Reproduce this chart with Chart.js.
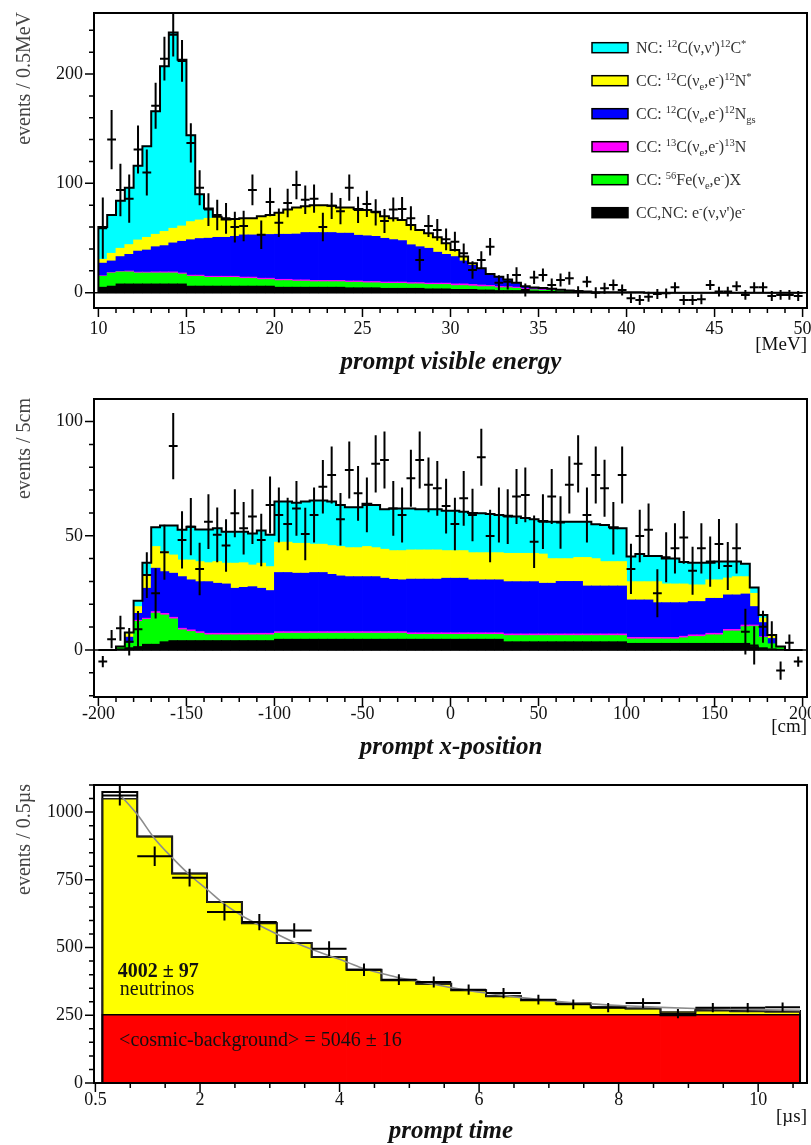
<!DOCTYPE html>
<html>
<head>
<meta charset="utf-8">
<title>prompt events</title>
<script src="https://cdn.jsdelivr.net/npm/chart.js@4.4.1/dist/chart.umd.min.js"></script>
<style>
  html, body { margin: 0; padding: 0; background: #fff; }
  #page { position: relative; width: 811px; height: 1145px; overflow: hidden; }
  #page canvas { position: absolute; left: 0; }
</style>
</head>
<body>
<div id="page">
  <canvas id="chart-energy" width="811" height="385" style="top:0"></canvas>
  <canvas id="chart-xpos" width="811" height="385" style="top:385px"></canvas>
  <canvas id="chart-time" width="811" height="375" style="top:770px"></canvas>
</div>
<script>
// ── Prompt visible energy, 0.5 MeV bins from 10 to 50 MeV ─────────
const E_FIRST = 10, E_BIN = 0.5;
const eNuElectron = [
  5, 6, 8, 8, 8, 8, 8, 8, 8, 8,   6, 6, 6, 6, 6, 6, 6, 6, 6, 6,
  5, 5, 5, 5, 5, 5, 5, 5, 4.5, 4.5,   4.5, 4.5, 4, 4, 4, 4, 4, 3.5, 3.5, 3.5,
  3, 3, 3, 2.5, 2.5, 2, 2, 2, 1.5, 1.5,   1.2, 1.2, 1, 1, 0.8, 0.6, 0.5, 0.5, 0.4, 0.3,
  0.3, 0.3, 0, 0, 0, 0, 0, 0, 0, 0,   0, 0, 0, 0, 0, 0, 0, 0, 0, 0,
];
const eCcIron = [
  10, 12, 11, 11, 10, 10, 10, 10, 10, 9,   9, 9, 8, 8, 8, 8, 7, 7, 6, 6,
  6, 6, 5.5, 5.5, 5, 5, 5, 5, 5, 5,   4.5, 4.5, 4.5, 4.5, 4.5, 4, 4, 4, 4, 4,
  3.5, 3.5, 3, 3, 3, 2.5, 2.5, 2, 1.5, 1.2,   1, 1, 0.8, 0.6, 0.5, 0.4, 0, 0, 0, 0,
  0, 0, 0, 0, 0, 0, 0, 0, 0, 0,   0, 0, 0, 0, 0, 0, 0, 0, 0, 0,
];
const eCcC13 = [
  0.5, 0.5, 0.5, 0.8, 0.8, 0.8, 1, 1, 1, 1,   1, 1, 1, 1, 1, 1, 1.2, 1.2, 1.2, 1.2,
  1.2, 1.2, 1.2, 1.2, 1.2, 1.2, 1.2, 1.2, 1.2, 1.2,   1.2, 1.2, 1.2, 1.2, 1.2, 1.2, 1.2, 1.2, 1.2, 1.2,
  1.5, 1.5, 1.5, 1.5, 1.2, 1.2, 1, 1, 0.8, 0.8,   0.6, 0.5, 0.3, 0, 0, 0, 0, 0, 0, 0,
  0, 0, 0, 0, 0, 0, 0, 0, 0, 0,   0, 0, 0, 0, 0, 0, 0, 0, 0, 0,
];
const eCcNGround = [
  11.5, 10.5, 13.5, 15.2, 19.2, 20.2, 23, 24, 26.5, 29,   32.4, 33.5, 34.8, 35.6, 35.6, 36.5, 38.6, 38.6, 39.6, 40,
  41.2, 41.2, 41.9, 43.3, 43.8, 43.8, 43.8, 43.2, 43.7, 41.8,   41.8, 41.3, 40, 38.8, 37.9, 34.6, 32.8, 31.9, 28.3, 26.3,
  25, 21, 17.5, 14.5, 9.8, 8.3, 6, 3.5, 2, 1.3,   1.4, 1, 0.7, 0.5, 0.3, 0, 0, 0, 0, 0,
  0, 0, 0, 0, 0, 0, 0, 0, 0, 0,   0, 0, 0, 0, 0, 0, 0, 0, 0, 0,
];
const eCcNStar = [
  3.5, 7, 7.6, 9, 10.2, 11.6, 11.4, 13, 13.4, 14,   16.6, 17, 18.2, 18.4, 16.4, 16, 15.2, 15.2, 17.2, 17.8,
  19.6, 22.6, 24.4, 24, 25, 25, 24.5, 23.6, 23.6, 24,   23.7, 22.5, 20.3, 19.5, 18.9, 18.2, 15.4, 13.7, 13.7, 10.2,
  6, 4, 2, 0.8, 0.5, 0.6, 0.5, 0.5, 0, 0,   0, 0, 0, 0, 0, 0, 0, 0, 0, 0,
  0, 0, 0, 0, 0, 0, 0, 0, 0, 0,   0, 0, 0, 0, 0, 0, 0, 0, 0, 0,
];
const eNcCarbon = [
  29.5, 35, 43.4, 52, 67.8, 83.4, 112.6, 151, 179.1, 152,   79, 23.5, 9, 0.5, 0, 0, 0, 0, 0, 0,
  0, 0, 0, 0, 0, 0, 0, 0, 0, 0,   0, 0, 0, 0, 0, 0, 0, 0, 0, 0,
  0, 0, 0, 0, 0, 0, 0, 0, 0, 0,   0, 0, 0, 0, 0, 0, 0, 0, 0, 0,
  0, 0, 0, 0, 0, 0, 0, 0, 0, 0,   0, 0, 0, 0, 0, 0, 0, 0, 0, 0,
];
const eData = [
  59, 140, 94, 86, 131, 110, 171, 214, 236, 212,   137, 96, 76, 71, 68, 60, 61, 94, 53, 83,
  64, 82, 98.5, 85, 86, 60, 79.5, 74.5, 96, 75.7,   81.2, 73.5, 65.5, 76, 76.5, 68, 30, 61, 57.4, 48.8,
  46.7, 36, 20.8, 30, 42, 9, 10, 16.2, 2.5, 14,   16.2, 7, 11.6, 13.2, 1, 10, 0, 4, 7, 2.5,
  -5, -6.7, -3.7, -1.2, -0.6, 5, -6.7, -6.7, -6, 7,   1, 1, 6, -2, 5, 5, -3, -2, -2, -3,
];
const eErr = [
  28, 27, 24, 22, 22, 21, 21, 20, 20, 19,   18, 16, 15, 14, 14, 14, 14, 14, 13, 13,
  13, 13, 13, 13, 13, 13, 12, 12, 12, 12,   12, 12, 11, 11, 11, 11, 10, 10, 10, 10,
  9, 9, 8, 8, 8, 7, 7, 7, 6, 6,   6, 6, 6, 6, 5, 5, 5, 5, 5, 5,
  4.5, 4.5, 4.5, 4.5, 4.5, 4.5, 4.5, 4.5, 4.5, 4.5,   4.5, 4.5, 4.5, 4.5, 4.5, 4.5, 4.5, 4.5, 4.5, 4.5,
];
const eTicks = [10, 15, 20, 25, 30, 35, 40, 45, 50];
const eCountTicks = [0, 100, 200];

// ── Prompt x-position, 5 cm bins from -200 to 200 cm ──────────────
const X_FIRST = -200, X_BIN = 5;
const xNuElectron = [
  0, 0, 0.5, 1, 1.5, 2.5, 2.5, 3.6, 4.1, 4.1,   4.1, 4.1, 4.1, 4.1, 4.1, 4.1, 4.1, 4.1, 4.1, 4.1,
  4.7, 4.7, 4.7, 4.7, 4.7, 4.7, 4.7, 4.7, 4.7, 4.7,   4.7, 4.7, 4.7, 4.7, 4.7, 4.7, 4.7, 4.7, 4.7, 4.7,
  4.7, 4.7, 4.7, 4.7, 4.7, 4.7, 3.6, 3.6, 3.6, 3.6,   3.6, 3.6, 3.6, 3.6, 3.6, 3.6, 3.6, 3.6, 3.6, 3.6,
  2.9, 2.9, 2.9, 2.9, 2.9, 2.9, 2.9, 2.9, 2.9, 2.9,   2.9, 2.9, 2.9, 2.9, 1.5, 1, 0.5, 0.3, 0, 0,
];
const xCcIron = [
  0, 0, 1, 2, 11, 10.9, 13.6, 11.7, 9.5, 4.7,   4, 3.2, 2.5, 2.5, 2.5, 2.5, 2.5, 2.5, 2.5, 2.5,
  2.6, 2.6, 2.6, 2.6, 2.6, 2.6, 2.6, 2.6, 2.6, 2.6,   2.6, 2.6, 2.6, 2.6, 2.6, 2.1, 2.1, 2.1, 2.1, 2.1,
  2.1, 2.1, 2.1, 2.1, 2.1, 2.1, 2.7, 2.7, 2.7, 2.7,   2.7, 2.7, 2.7, 2.7, 2.7, 2.7, 2.7, 2.7, 2.7, 2.7,
  1.9, 1.9, 1.9, 1.9, 1.9, 1.9, 2.4, 3, 3, 3.7,   3.7, 5.4, 5.4, 7.3, 8.9, 4.5, 2.2, 1.2, 0, 0,
];
const xCcC13 = [
  0, 0, 0, 0, 0.5, 0.5, 0.7, 0.7, 0.7, 0.7,   0.7, 0.7, 0.7, 0.7, 0.7, 0.7, 0.7, 0.7, 0.7, 0.7,
  0.7, 0.7, 0.7, 0.7, 0.7, 0.7, 0.7, 0.7, 0.7, 0.7,   0.7, 0.7, 0.7, 0.7, 0.7, 0.7, 0.7, 0.7, 0.7, 0.7,
  0.7, 0.7, 0.7, 0.7, 0.7, 0.7, 0.7, 0.7, 0.7, 0.7,   0.7, 0.7, 0.7, 0.7, 0.7, 0.7, 0.7, 0.7, 0.7, 0.7,
  0.7, 0.7, 0.7, 0.7, 0.7, 0.7, 0.7, 0.7, 0.7, 0.7,   0.7, 0.7, 0.7, 0.7, 0.5, 0.3, 0, 0, 0, 0,
];
const xCcNGround = [
  0, 0, 0, 2.6, 3, 13.1, 19, 18.3, 19.3, 22.6,   21.9, 21.9, 22.6, 21.9, 21.6, 19.7, 20.1, 20.4, 19.7, 18.7,
  25.9, 25.9, 25.6, 25.6, 25.9, 25.9, 25.1, 24.4, 24.1, 24.1,   24.1, 24.1, 23.4, 22.9, 22.7, 23.5, 23.5, 23.5, 23.5, 23.9,
  23.9, 23.9, 23.2, 23.2, 23.2, 23.2, 22.9, 22.9, 22.9, 22.9,   22.2, 22.2, 23, 23, 23, 21, 21, 21, 21, 21,
  16.4, 16.4, 16.4, 15.2, 15.2, 15.2, 14.7, 14.6, 14.6, 15.3,   15.3, 15.1, 15.1, 13.6, 8.1, 6.2, 2.3, 0, 0, 0,
];
const xCcNStar = [
  0, 0, 0, 1.5, 3, 5.8, 9.5, 8.7, 8, 7.3,   8.7, 8.8, 8.3, 9.5, 9.1, 11, 10.8, 9.5, 11, 10.5,
  13.3, 13.3, 13.1, 13.1, 12.4, 12.4, 12.6, 12.9, 12.7, 12.7,   13.2, 12.7, 12.7, 12.6, 12.8, 12.8, 12.8, 12.8, 12.8, 12.1,
  12.1, 12.1, 11.9, 11.9, 11.9, 11.9, 12.4, 12.4, 12.4, 12.4,   12.8, 10.8, 10, 10, 10.5, 12.5, 12, 10.7, 10.7, 10.7,
  8, 8, 8, 9.2, 8.2, 8.2, 8.2, 7.3, 7.3, 8.1,   8.1, 7.4, 8, 7.6, 5.8, 2, 1, 0, 0, 0,
];
const xNcCarbon = [
  0, 0, 0, 0.5, 2.5, 5.4, 8.4, 11.5, 12.9, 13.2,   14.6, 14.1, 14.6, 14.6, 13.8, 13.8, 13.6, 13.8, 14.3, 13.9,
  17.8, 17.8, 17.8, 18.3, 19.1, 19.1, 19.3, 18.2, 17.7, 17.7,   18.7, 18.7, 17.5, 18.5, 18.5, 18.2, 17.8, 17.8, 17.8, 17.5,
  17.5, 17, 17.4, 17.3, 16.9, 16.5, 16.5, 16.1, 15.5, 14.9,   14.5, 16.2, 16.2, 16.2, 15.7, 15.7, 15, 16, 15, 14.6,
  11, 12.1, 11.3, 11.3, 11.2, 11.2, 9.6, 9.7, 9.7, 7.5,   8, 7.2, 6.6, 5.6, 2.6, 1.3, 0.6, 0, 0, 0,
];
const xData = [
  -5.1, 4.7, 9.5, 3.6, 9.1, 32.8, 24.8, 42.8, 89.3, 48.2,   54, 35.5, 56.2, 50.4, 45.7, 59.9, 53.3, 58.4, 48.2, 63.5,
  59.1, 55.2, 62, 50.8, 59.1, 71.5, 76.6, 57.2, 78.8, 68.6,   63.5, 81.5, 83.2, 62, 59.1, 75.2, 83.2, 72.3, 70.8, 63,
  55.2, 66.4, 59.1, 84.4, 49.9, 59.1, 58.4, 67.2, 67.9, 47.4,   56.2, 67.2, 55.8, 72.3, 81.5, 59.1, 76.6, 70.8, 53.3, 76.6,
  35.5, 49.9, 52.6, 24.8, 40.6, 44.5, 49.3, 34.7, 44.5, 38.7,   46.4, 36.8, 44.5, 8, 2, 10.2, 6.6, -9, 3.2, -5.1,
];
const xErr = [
  2.5, 4, 5.5, 6, 8, 10, 11, 12, 14.5, 12.5,   12.5, 11.5, 12, 12, 11.5, 10.5, 11.5, 12, 11.5, 12.5,
  12, 11.5, 12, 11.5, 12, 11.7, 12.5, 11.5, 12.5, 12,   12, 12.5, 12.5, 12, 12, 12.5, 12.5, 12, 12, 12,
  11.5, 12, 11.5, 12.5, 11.5, 12, 12, 12, 12, 11.5,   12, 12, 11.5, 12.5, 12.5, 12, 12.5, 12.5, 11.5, 12.5,
  11, 11.5, 11.5, 10.5, 11, 11, 11.5, 10.5, 11, 11,   11, 10.5, 11, 10, 8.4, 7, 6, 4, 3.6, 2.2,
];
const xTicks = [-200, -150, -100, -50, 0, 50, 100, 150, 200];
const xCountTicks = [0, 50, 100];

// ── Prompt time, 0.5 µs bins from 0.6 to 10.6 µs ──────────────────
const T_FIRST = 0.6, T_BIN = 0.5;
const tCosmic = [
  252.3, 252.3, 252.3, 252.3, 252.3, 252.3, 252.3, 252.3, 252.3, 252.3,
  252.3, 252.3, 252.3, 252.3, 252.3, 252.3, 252.3, 252.3, 252.3, 252.3,
];
const tNeutrino = [797, 658, 521, 416, 338, 265, 213, 166, 127, 114, 90, 68, 53, 41, 28, 23, 10, 14, 12, 10];
const tMeasured = [1074, 910, 773, 668, 590, 517, 465, 418, 379, 366, 342, 320, 305, 293, 280, 275, 250, 270, 266, 266];
const tData = [1061, 837, 758, 631, 594, 563, 496, 418, 381.5, 372.7, 344.6, 332, 307.7, 290.4, 278, 295, 256, 278, 278, 280];
const tErr = [37, 36, 33, 31, 30, 27, 27, 23, 20, 20, 19, 19, 18, 18, 17, 18, 17, 17, 17, 17];
const tFitTime = [0.84, 1.11, 1.35, 1.6, 1.86, 2.09, 2.35, 2.59, 2.85, 3.09, 3.34, 3.58, 3.84, 4.1, 4.35,
  4.61, 4.84, 5.1, 5.6, 6.1, 6.6, 7.1, 7.6, 8.1, 8.6, 9.1, 9.6, 10.1, 10.6];
const tFitValue = [1068, 988, 902, 832, 766, 717, 660, 619, 582, 551, 520, 496, 471, 447, 422,
  404, 389, 377, 352, 332, 315, 302, 292, 285, 279, 275, 272, 270, 268];
const tTicks = [0.5, 2, 4, 6, 8, 10];
const tCountTicks = [0, 250, 500, 750, 1000];

// Process names, ^{} = superscript, _{} = subscript
const LABELS = {
  ncCarbon: "NC: ^{12}C(ν,ν')^{12}C^{*}",
  nStar:    'CC: ^{12}C(ν_{e},e^{-})^{12}N^{*}',
  nGround:  'CC: ^{12}C(ν_{e},e^{-})^{12}N_{gs}',
  c13:      'CC: ^{13}C(ν_{e},e^{-})^{13}N',
  iron:     'CC: ^{56}Fe(ν_{e},e^{-})X',
  electron: "CC,NC: e^{-}(ν,ν')e^{-}",
};

const COLORS = {
  ncCarbon: '#00ffff',
  nStar:    '#ffff00',
  nGround:  '#0000ff',
  c13:      '#ff00ff',
  iron:     '#00ff00',
  electron: '#000000',
  cosmic:   '#ff0000',
  neutrino: '#ffff00',
};

const SERIF = '"Liberation Serif", "DejaVu Serif", serif';
const INK = '#111';
Chart.defaults.font.family = SERIF;

// ── Dataset builders ──────────────────────────────────────────────
function histBars(label, values, color, first, width) {
  const data = [];
  values.forEach((v, i) => { if (v > 0) data.push({ x: first + width * (i + 0.5), y: v }); });
  return {
    type: 'bar', label, data, backgroundColor: color, stack: 'mc',
    borderWidth: 0, barPercentage: 1, categoryPercentage: 1, inflateAmount: 0.4,
  };
}

function sumBins(...series) {
  return series[0].map((_, i) => series.reduce((s, a) => s + a[i], 0));
}

function stepOutline(values, first, width, color, lineWidth, stack) {
  const data = [{ x: first, y: 0 }];
  values.forEach((v, i) => data.push({ x: first + width * i, y: v }));
  data.push({ x: first + width * values.length, y: 0 });
  return {
    type: 'line', data, stepped: 'before', borderColor: color, borderWidth: lineWidth,
    pointRadius: 0, fill: false, stack, order: -1,
  };
}

function measured(values, errs, first, width) {
  return {
    type: 'line', label: 'data', stack: 'data', order: -2,
    data: values.map((v, i) => ({ x: first + width * (i + 0.5), y: v })),
    showLine: false, pointRadius: 0, errY: errs, errX: width / 2,
  };
}

function stepsBetween(min, max, step) {
  const out = [];
  for (let v = Math.ceil(min / step - 1e-9) * step; v <= max + 1e-9; v += step) out.push(+v.toFixed(6));
  return out;
}

// ── Rich text (super/subscripts) ──────────────────────────────────
function richRuns(str) {
  const runs = [];
  const re = /([\^_])\{([^}]*)\}/g;
  let last = 0, m;
  while ((m = re.exec(str))) {
    if (m.index > last) runs.push({ text: str.slice(last, m.index), shift: 0 });
    runs.push({ text: m[2], shift: m[1] === '^' ? 1 : -1 });
    last = re.lastIndex;
  }
  if (last < str.length) runs.push({ text: str.slice(last), shift: 0 });
  return runs;
}

function drawRich(ctx, str, x, y, size) {
  for (const r of richRuns(str)) {
    const s = r.shift ? size * 0.66 : size;
    ctx.font = `${s}px ${SERIF}`;
    const dy = r.shift > 0 ? -size * 0.4 : r.shift < 0 ? size * 0.22 : 0;
    ctx.fillText(r.text, x, y + dy);
    x += ctx.measureText(r.text).width;
  }
}

// ── Plugins ───────────────────────────────────────────────────────
const errorBars = {
  id: 'errorBars',
  afterDatasetsDraw(chart) {
    const { ctx, chartArea: a, scales: { x, y } } = chart;
    ctx.save();
    ctx.beginPath();
    ctx.rect(a.left, a.top, a.right - a.left, a.bottom - a.top);
    ctx.clip();
    ctx.strokeStyle = '#000';
    ctx.lineWidth = 2;
    chart.data.datasets.forEach(ds => {
      if (!ds.errY) return;
      ds.data.forEach((p, i) => {
        const px = x.getPixelForValue(p.x), py = y.getPixelForValue(p.y);
        ctx.beginPath();
        ctx.moveTo(x.getPixelForValue(p.x - ds.errX), py);
        ctx.lineTo(x.getPixelForValue(p.x + ds.errX), py);
        ctx.moveTo(px, y.getPixelForValue(p.y - ds.errY[i]));
        ctx.lineTo(px, y.getPixelForValue(p.y + ds.errY[i]));
        ctx.stroke();
      });
    });
    ctx.restore();
  },
};

// Frame, outside ticks, labels, titles, legend and notes
function rootAxes(cfg) {
  return {
    id: 'rootAxes',
    afterDatasetsDraw(chart) {
      if (!cfg.zeroLine) return;
      const { ctx, chartArea: a, scales: { y } } = chart;
      const py = y.getPixelForValue(0);
      ctx.save();
      ctx.strokeStyle = '#000';
      ctx.lineWidth = 1.5;
      ctx.beginPath();
      ctx.moveTo(a.left, py);
      ctx.lineTo(a.right, py);
      ctx.stroke();
      ctx.restore();
    },
    afterDraw(chart) {
      const { ctx, chartArea: a, scales: { x, y } } = chart;
      ctx.save();

      ctx.strokeStyle = '#000';
      ctx.lineWidth = 2;
      ctx.strokeRect(a.left, a.top, a.right - a.left, a.bottom - a.top);

      ctx.lineWidth = 1.5;
      ctx.beginPath();
      for (const v of stepsBetween(x.min, x.max, cfg.xMinor)) {
        const px = x.getPixelForValue(v);
        const len = cfg.xMajor.some(m => Math.abs(m - v) < 1e-6) ? 9 : 5;
        ctx.moveTo(px, a.bottom);
        ctx.lineTo(px, a.bottom + len);
      }
      for (const v of stepsBetween(y.min, y.max, cfg.yMinor)) {
        const py = y.getPixelForValue(v);
        const len = cfg.yMajor.some(m => Math.abs(m - v) < 1e-6) ? 9 : 5;
        ctx.moveTo(a.left, py);
        ctx.lineTo(a.left - len, py);
      }
      ctx.stroke();

      ctx.fillStyle = INK;
      ctx.font = `18px ${SERIF}`;
      ctx.textAlign = 'center';
      ctx.textBaseline = 'middle';
      cfg.xMajor.forEach(v => ctx.fillText(String(v), x.getPixelForValue(v), a.bottom + cfg.xLabelGap));
      ctx.textAlign = 'right';
      cfg.yMajor.forEach(v => ctx.fillText(String(v), a.left - 11, y.getPixelForValue(v)));

      // y title, top aligned and reading upwards
      ctx.save();
      ctx.translate(25, a.top - 1);
      ctx.rotate(-Math.PI / 2);
      ctx.fillStyle = '#444';
      ctx.font = `20px ${SERIF}`;
      ctx.textAlign = 'right';
      ctx.textBaseline = 'middle';
      ctx.fillText(cfg.yTitle, 0, 0);
      ctx.restore();

      ctx.font = `italic bold 25px ${SERIF}`;
      ctx.textAlign = 'center';
      ctx.textBaseline = 'middle';
      ctx.fillText(cfg.xTitle, 451, a.bottom + cfg.xTitleGap);

      ctx.font = `19px ${SERIF}`;
      ctx.textAlign = 'right';
      ctx.fillText(cfg.unit, a.right, a.bottom + cfg.unitGap);

      if (cfg.legend) {
        const L = cfg.legend;
        const bars = chart.data.datasets.filter(d => d.type === 'bar').reverse();
        ctx.textAlign = 'left';
        ctx.textBaseline = 'alphabetic';
        bars.forEach((d, k) => {
          const cy = L.top + k * L.step;
          ctx.fillStyle = d.backgroundColor;
          ctx.fillRect(L.left, cy - 5, 36, 10);
          ctx.strokeStyle = '#000';
          ctx.lineWidth = 1.5;
          ctx.strokeRect(L.left, cy - 5, 36, 10);
          ctx.fillStyle = '#333';
          drawRich(ctx, d.label, L.left + 44, cy + 5.5, 16);
        });
      }

      if (cfg.notes) {
        ctx.fillStyle = INK;
        ctx.textAlign = 'left';
        ctx.textBaseline = 'alphabetic';
        cfg.notes.forEach(n => {
          ctx.font = `${n.bold ? 'bold ' : ''}20px ${SERIF}`;
          ctx.fillText(n.text, x.getPixelForValue(n.x), y.getPixelForValue(n.y));
        });
      }
      ctx.restore();
    },
  };
}

function baseOptions(padding, xRange, yRange) {
  return {
    responsive: false,
    animation: false,
    devicePixelRatio: 1,
    layout: { padding },
    scales: {
      x: { type: 'linear', min: xRange[0], max: xRange[1], offset: false, display: false },
      y: { type: 'linear', min: yRange[0], max: yRange[1], stacked: true, display: false },
    },
    plugins: { legend: { display: false }, tooltip: { enabled: false } },
  };
}

// ── Prompt visible energy ─────────────────────────────────────────
const eTotal = sumBins(eNuElectron, eCcIron, eCcC13, eCcNGround, eCcNStar, eNcCarbon);
new Chart(document.getElementById('chart-energy'), {
  type: 'bar',
  data: {
    datasets: [
      histBars(LABELS.electron, eNuElectron, COLORS.electron, E_FIRST, E_BIN),
      histBars(LABELS.iron, eCcIron, COLORS.iron, E_FIRST, E_BIN),
      histBars(LABELS.c13, eCcC13, COLORS.c13, E_FIRST, E_BIN),
      histBars(LABELS.nGround, eCcNGround, COLORS.nGround, E_FIRST, E_BIN),
      histBars(LABELS.nStar, eCcNStar, COLORS.nStar, E_FIRST, E_BIN),
      histBars(LABELS.ncCarbon, eNcCarbon, COLORS.ncCarbon, E_FIRST, E_BIN),
      stepOutline(eTotal, E_FIRST, E_BIN, '#000', 2, 'total'),
      measured(eData, eErr, E_FIRST, E_BIN),
    ],
  },
  options: baseOptions({ left: 94, right: 4, top: 13, bottom: 77 }, [9.75, 50.25], [-14, 255.8]),
  plugins: [rootAxes({
    xMajor: eTicks, xMinor: 1, yMajor: eCountTicks, yMinor: 20, xLabelGap: 21,
    yTitle: 'events / 0.5MeV', xTitle: 'prompt visible energy', xTitleGap: 55,
    unit: '[MeV]', unitGap: 37, zeroLine: true,
    legend: { left: 592, top: 47.7, step: 33 },
  }), errorBars],
});

// ── Prompt x-position ─────────────────────────────────────────────
const xTotal = sumBins(xNuElectron, xCcIron, xCcC13, xCcNGround, xCcNStar, xNcCarbon);
new Chart(document.getElementById('chart-xpos'), {
  type: 'bar',
  data: {
    datasets: [
      histBars(LABELS.electron, xNuElectron, COLORS.electron, X_FIRST, X_BIN),
      histBars(LABELS.iron, xCcIron, COLORS.iron, X_FIRST, X_BIN),
      histBars(LABELS.c13, xCcC13, COLORS.c13, X_FIRST, X_BIN),
      histBars(LABELS.nGround, xCcNGround, COLORS.nGround, X_FIRST, X_BIN),
      histBars(LABELS.nStar, xCcNStar, COLORS.nStar, X_FIRST, X_BIN),
      histBars(LABELS.ncCarbon, xNcCarbon, COLORS.ncCarbon, X_FIRST, X_BIN),
      stepOutline(xTotal, X_FIRST, X_BIN, '#000', 2, 'total'),
      measured(xData, xErr, X_FIRST, X_BIN),
    ],
  },
  options: baseOptions({ left: 94, right: 4, top: 14, bottom: 73 }, [-202.5, 202.5], [-20.6, 109.9]),
  plugins: [rootAxes({
    xMajor: xTicks, xMinor: 10, yMajor: xCountTicks, yMinor: 10, xLabelGap: 17,
    yTitle: 'events / 5cm', xTitle: 'prompt x-position', xTitleGap: 51,
    unit: '[cm]', unitGap: 30, zeroLine: true,
  }), errorBars],
});

// ── Prompt time ───────────────────────────────────────────────────
const tFill = sumBins(tCosmic, tNeutrino);
const fitCurve = {
  type: 'line', stack: 'fit', order: -3,
  data: tFitTime.map((t, i) => ({ x: t, y: tFitValue[i] })),
  borderColor: '#8c8c8c', borderWidth: 1.6, pointRadius: 0,
  cubicInterpolationMode: 'monotone', fill: false,
};
new Chart(document.getElementById('chart-time'), {
  type: 'bar',
  data: {
    datasets: [
      histBars('cosmic background', tCosmic, COLORS.cosmic, T_FIRST, T_BIN),
      histBars('neutrinos', tNeutrino, COLORS.neutrino, T_FIRST, T_BIN),
      stepOutline(tCosmic, T_FIRST, T_BIN, '#000', 1.5, 'cosmic'),
      stepOutline(tFill, T_FIRST, T_BIN, '#222', 1.5, 'fill'),
      stepOutline(tMeasured, T_FIRST, T_BIN, '#000', 2, 'measured'),
      fitCurve,
      measured(tData, tErr, T_FIRST, T_BIN),
    ],
  },
  options: baseOptions({ left: 94, right: 4, top: 15, bottom: 62 }, [0.48, 10.7], [0, 1100]),
  plugins: [rootAxes({
    xMajor: tTicks, xMinor: 0.5, yMajor: tCountTicks, yMinor: 50, xLabelGap: 17,
    yTitle: 'events / 0.5µs', xTitle: 'prompt time', xTitleGap: 49,
    unit: '[µs]', unitGap: 34,
    notes: [
      { text: '4002 ± 97', x: 0.82, y: 390, bold: true },
      { text: 'neutrinos', x: 0.85, y: 324 },
      { text: '<cosmic-background> = 5046 ± 16', x: 0.84, y: 135 },
    ],
  }), errorBars],
});
</script>
</body>
</html>
